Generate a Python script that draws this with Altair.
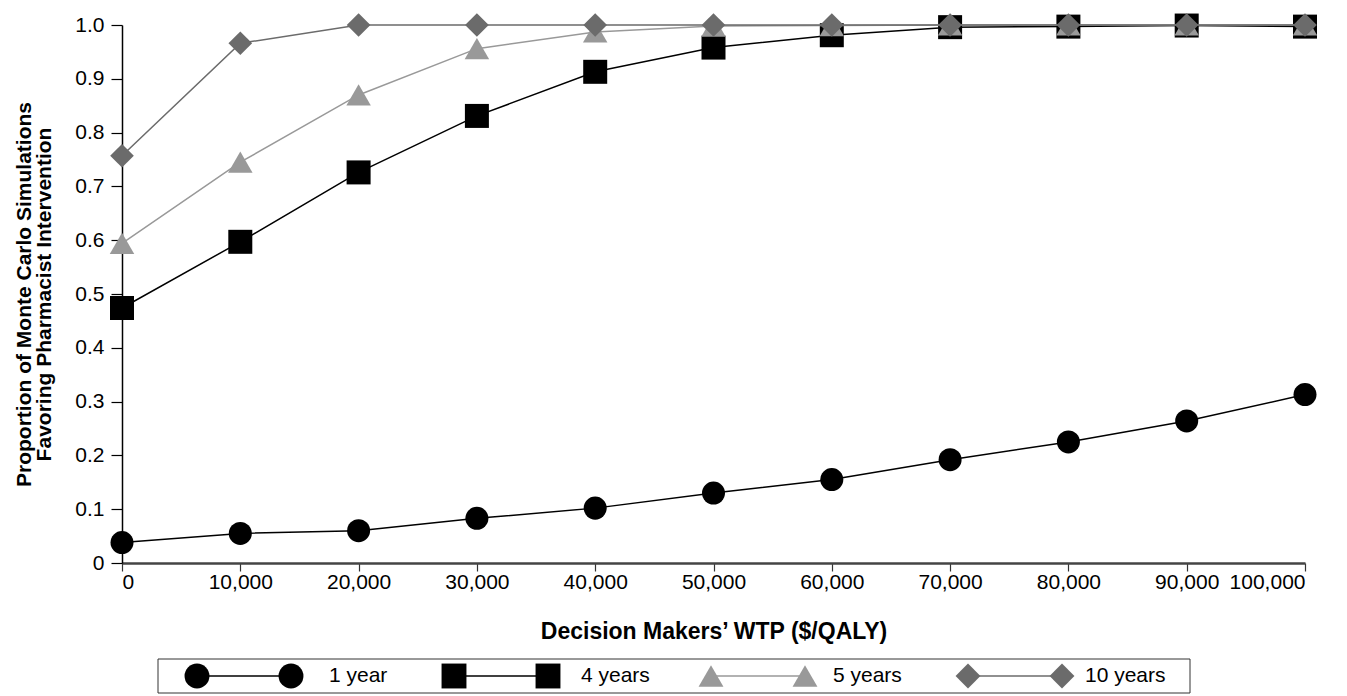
import altair as alt
import pandas as pd

wtp = [0, 10000, 20000, 30000, 40000, 50000, 60000, 70000, 80000, 90000, 100000]
series_names = ["1 year", "4 years", "5 years", "10 years"]
y_1yr = [0.038, 0.055, 0.060, 0.083, 0.102, 0.130, 0.155, 0.192, 0.225, 0.264, 0.313]
y_4yr = [0.474, 0.597, 0.726, 0.831, 0.913, 0.958, 0.981, 0.996, 0.997, 0.999, 0.997]
y_5yr = [0.594, 0.745, 0.870, 0.956, 0.987, 0.998, 0.999, 1.000, 1.000, 1.000, 1.000]
y_10yr = [0.757, 0.966, 1.000, 1.000, 1.000, 1.000, 1.000, 1.000, 1.000, 1.000, 1.000]

colors = ["#000000", "#000000", "#999999", "#6b6b6b"]
shapes = ["circle", "square", "triangle-up", "diamond"]
sizes = [530, 576, 600, 560]

FONT = "Liberation Sans"

rows = []
for name, vals in zip(series_names, [y_1yr, y_4yr, y_5yr, y_10yr]):
    for w, v in zip(wtp, vals):
        rows.append({"wtp": w, "series": name, "value": v})
df = pd.DataFrame(rows)

W, H = 1183, 538
xscale = alt.Scale(domain=[0, 100000], nice=False)
yscale = alt.Scale(domain=[0, 1], nice=False)

xaxis = alt.Axis(
    values=wtp, format=",d", grid=False, tickSize=8, labelPadding=0,
    domainColor="#444444", domainWidth=2.5, tickColor="#333333", tickWidth=1.2,
    labelFontSize=21, labelColor="#000000", labelFont=FONT,
    title="Decision Makers\u2019 WTP ($/QALY)", titleFontSize=23, titleFont=FONT,
    titleFontWeight="bold", titlePadding=28, titleColor="#000000",
)
yaxis = alt.Axis(
    values=[i / 10 for i in range(11)],
    labelExpr="datum.value == 0 ? '0' : format(datum.value, '.1f')",
    grid=False, tickSize=11, labelPadding=7,
    domainColor="#000000", domainWidth=1.5, tickColor="#000000", tickWidth=1.2,
    labelFontSize=21, labelColor="#000000", labelFont=FONT,
    title=["Proportion of Monte Carlo Simulations", "Favoring Pharmacist Intervention"],
    titleFontSize=21, titleFont=FONT, titleFontWeight="bold", titlePadding=20,
    titleColor="#000000", titleLineHeight=20,
)

layers = []
for i, name in enumerate(series_names):
    base = alt.Chart(df).transform_filter(alt.datum.series == name)
    enc = dict(
        x=alt.X("wtp:Q", scale=xscale, axis=xaxis),
        y=alt.Y("value:Q", scale=yscale, axis=yaxis),
    )
    line = base.mark_line(color=colors[i], strokeWidth=1.5).encode(**enc)
    pts = base.mark_point(shape=shapes[i], size=sizes[i], filled=True,
                          color=colors[i], opacity=1, strokeWidth=0).encode(**enc)
    layers += [line, pts]

main = alt.layer(*layers).properties(width=W, height=H)

# custom legend (symbol - line - symbol  label)
leg_df = pd.DataFrame({"series": series_names, "idx": list(range(len(series_names)))})
LW, LH = W, 34
lx = alt.Scale(domain=[0, LW], nice=False)
ly = alt.Scale(domain=[0, 1], nice=False)
cscale = alt.Scale(domain=series_names, range=colors)
sscale = alt.Scale(domain=series_names, range=shapes)

lbase = alt.Chart(leg_df).transform_calculate(
    xa="75 + datum.idx * 257",
    xb="75 + datum.idx * 257 + 94",
    xt="75 + datum.idx * 257 + 132 - 5 * datum.idx",
    yc="0.5",
)
box = alt.Chart(pd.DataFrame({"k": [0]})).mark_rect(
    filled=False, stroke="#333333", strokeWidth=1
).encode(x=alt.value(36), x2=alt.value(1068), y=alt.value(0), y2=alt.value(LH))
lrule = lbase.mark_rule(strokeWidth=1.5).encode(
    x=alt.X("xa:Q", scale=lx, axis=None), x2="xb:Q",
    y=alt.Y("yc:Q", scale=ly, axis=None),
    color=alt.Color("series:N", scale=cscale, legend=None),
)
lsym1 = lbase.mark_point(filled=True, size=620, opacity=1, strokeWidth=0).encode(
    x=alt.X("xa:Q", scale=lx, axis=None), y=alt.Y("yc:Q", scale=ly, axis=None),
    color=alt.Color("series:N", scale=cscale, legend=None),
    shape=alt.Shape("series:N", scale=sscale, legend=None),
)
lsym2 = lbase.mark_point(filled=True, size=620, opacity=1, strokeWidth=0).encode(
    x=alt.X("xb:Q", scale=lx, axis=None), y=alt.Y("yc:Q", scale=ly, axis=None),
    color=alt.Color("series:N", scale=cscale, legend=None),
    shape=alt.Shape("series:N", scale=sscale, legend=None),
)
ltext = lbase.mark_text(align="left", baseline="middle", fontSize=21, font=FONT,
                        color="#000000").encode(
    x=alt.X("xt:Q", scale=lx, axis=None), y=alt.Y("yc:Q", scale=ly, axis=None),
    text="series:N",
)
legend = alt.layer(box, lrule, lsym1, lsym2, ltext).properties(width=LW, height=LH)

chart = alt.vconcat(main, legend, spacing=15).configure(
    font=FONT, padding={"left": 5, "top": 5, "right": 5, "bottom": 5},
    view=alt.ViewConfig(stroke=None),
)

chart.save("out.html", embed_options={"renderer": "svg", "actions": False})
